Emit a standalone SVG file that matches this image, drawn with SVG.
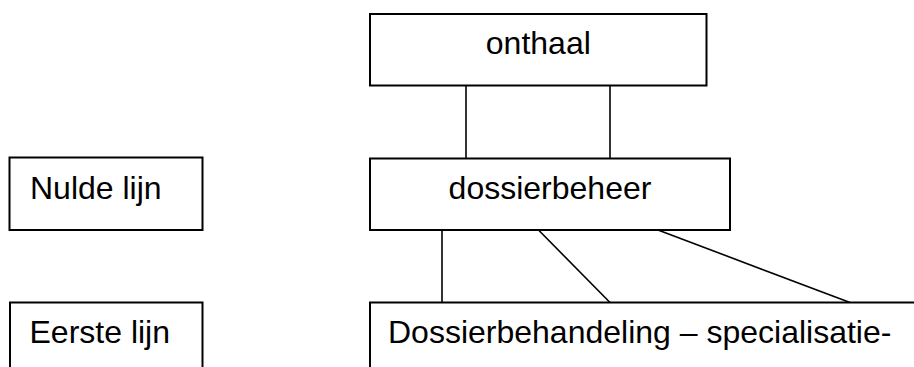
<svg xmlns="http://www.w3.org/2000/svg" width="914" height="367" viewBox="0 0 914 367">
  <style>
    .box { fill: #ffffff; stroke: #000000; stroke-width: 2; }
    .lbl { font-family: "Liberation Sans", Arial, sans-serif; font-size: 32px; fill: #000000; }
    .mid { text-anchor: middle; }
    .conn line { stroke: #000000; stroke-width: 1.6; }
  </style>
  <rect width="914" height="367" fill="#ffffff"/>
  <g id="connectors" class="conn">
    <line x1="466" y1="85.5" x2="466" y2="158.5"/>
    <line x1="610" y1="85.5" x2="610" y2="158.5"/>
    <line x1="442" y1="230" x2="442" y2="302.5"/>
    <line x1="538.5" y1="230" x2="610" y2="302.5"/>
    <line x1="658" y1="230" x2="850" y2="302.5"/>
  </g>
  <g id="onthaal">
    <rect class="box" x="370" y="14" width="336.5" height="71.5"/>
    <text class="lbl mid" x="538.3" y="54">onthaal</text>
  </g>
  <g id="dossierbeheer">
    <rect class="box" x="370" y="158.5" width="360" height="71.5"/>
    <text class="lbl mid" x="550" y="198.5">dossierbeheer</text>
  </g>
  <g id="nulde-lijn">
    <rect class="box" x="9.5" y="157.5" width="193" height="72.5"/>
    <text class="lbl" x="30" y="198.5">Nulde lijn</text>
  </g>
  <g id="eerste-lijn">
    <rect class="box" x="10" y="302.5" width="192.5" height="100"/>
    <text class="lbl" x="29.5" y="342.5">Eerste lijn</text>
  </g>
  <g id="dossierbehandeling">
    <rect class="box" x="370" y="302.5" width="600" height="100"/>
    <text class="lbl" x="388" y="342.5">Dossierbehandeling – specialisatie-</text>
  </g>
</svg>
